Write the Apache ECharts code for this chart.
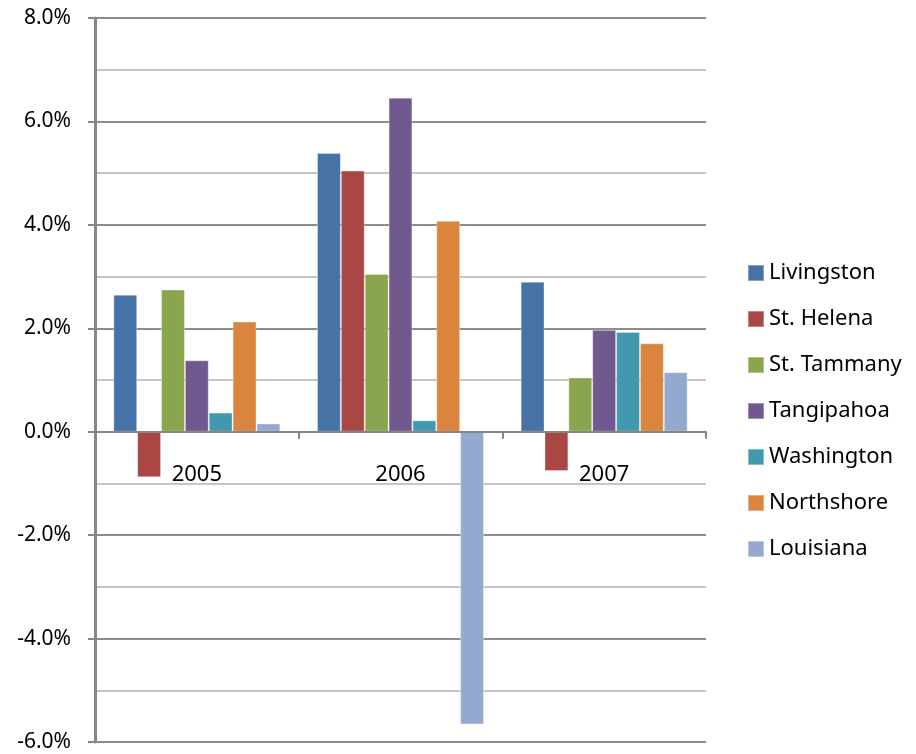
<!DOCTYPE html>
<html>
<head>
<meta charset="utf-8">
<script src="https://cdn.jsdelivr.net/npm/echarts@6/dist/echarts.min.js"></script>
<style>html,body{margin:0;padding:0;background:#fff}#c{width:916px;height:754px}</style>
</head>
<body>
<div id="c"></div>
<script>
const categories = ['2005', '2006', '2007'];
const seriesNames = ['Livingston', 'St. Helena', 'St. Tammany', 'Tangipahoa', 'Washington', 'Northshore', 'Louisiana'];
const livingston = [2.65, 5.39, 2.90];
const stHelena = [-0.88, 5.05, -0.76];
const stTammany = [2.75, 3.05, 1.05];
const tangipahoa = [1.38, 6.46, 1.97];
const washington = [0.37, 0.22, 1.93];
const northshore = [2.13, 4.08, 1.71];
const louisiana = [0.16, -5.66, 1.15];
const colors = ['#4572A7', '#AA4643', '#89A54E', '#71588F', '#4198AF', '#DB843D', '#93A9CF'];
const values = [livingston, stHelena, stTammany, tangipahoa, washington, northshore, louisiana];

const font = 'Noto Sans';
const chart = echarts.init(document.getElementById('c'));
chart.setOption({
  animation: false,
  color: colors,
  grid: { left: 95, right: 210, top: 18, bottom: 12, containLabel: false, outerBoundsMode: 'none' },
  legend: {
    orient: 'vertical', left: 742, top: 257,
    itemWidth: 16, itemHeight: 16, itemGap: 24, itemTextGap: 8,
    icon: 'rect',
    textStyle: { fontFamily: font, fontSize: 22, color: '#000' },
    data: seriesNames
  },
  xAxis: {
    type: 'category', data: categories,
    axisLine: { onZero: false, lineStyle: { color: '#868686', width: 2 } },
    axisTick: { show: true, length: 7, lineStyle: { color: '#868686', width: 2 } },
    axisLabel: { fontFamily: font, fontSize: 22, color: '#000', margin: 32 },
    z: 5
  },
  yAxis: {
    type: 'value', min: -6, max: 8, interval: 2,
    axisLine: { show: true, lineStyle: { color: '#868686', width: 3 } },
    axisTick: { show: true, length: 7, lineStyle: { color: '#868686', width: 2 } },
    axisLabel: { fontFamily: font, fontSize: 21, color: '#000', margin: 24,
      formatter: v => v.toFixed(1) + '%' },
    splitLine: { show: true, lineStyle: { color: '#8c8c8c', width: 2 } },
    minorTick: { show: false, splitNumber: 2 },
    minorSplitLine: { show: true, lineStyle: { color: '#c6c6c6', width: 2 } }
  },
  series: seriesNames.map((n, i) => ({
    name: n, type: 'bar', data: values[i],
    barGap: '0%', barCategoryGap: '18%',
    itemStyle: { color: colors[i], borderColor: 'rgba(255,255,255,0.35)', borderWidth: 1 }
  }))
});
// place the category axis on the zero line, using the value axis scale
const y0 = chart.convertToPixel({ yAxisIndex: 0 }, 0);
const yMin = chart.convertToPixel({ yAxisIndex: 0 }, -6);
chart.setOption({ xAxis: { offset: -(yMin - y0) } });
</script>
</body>
</html>
